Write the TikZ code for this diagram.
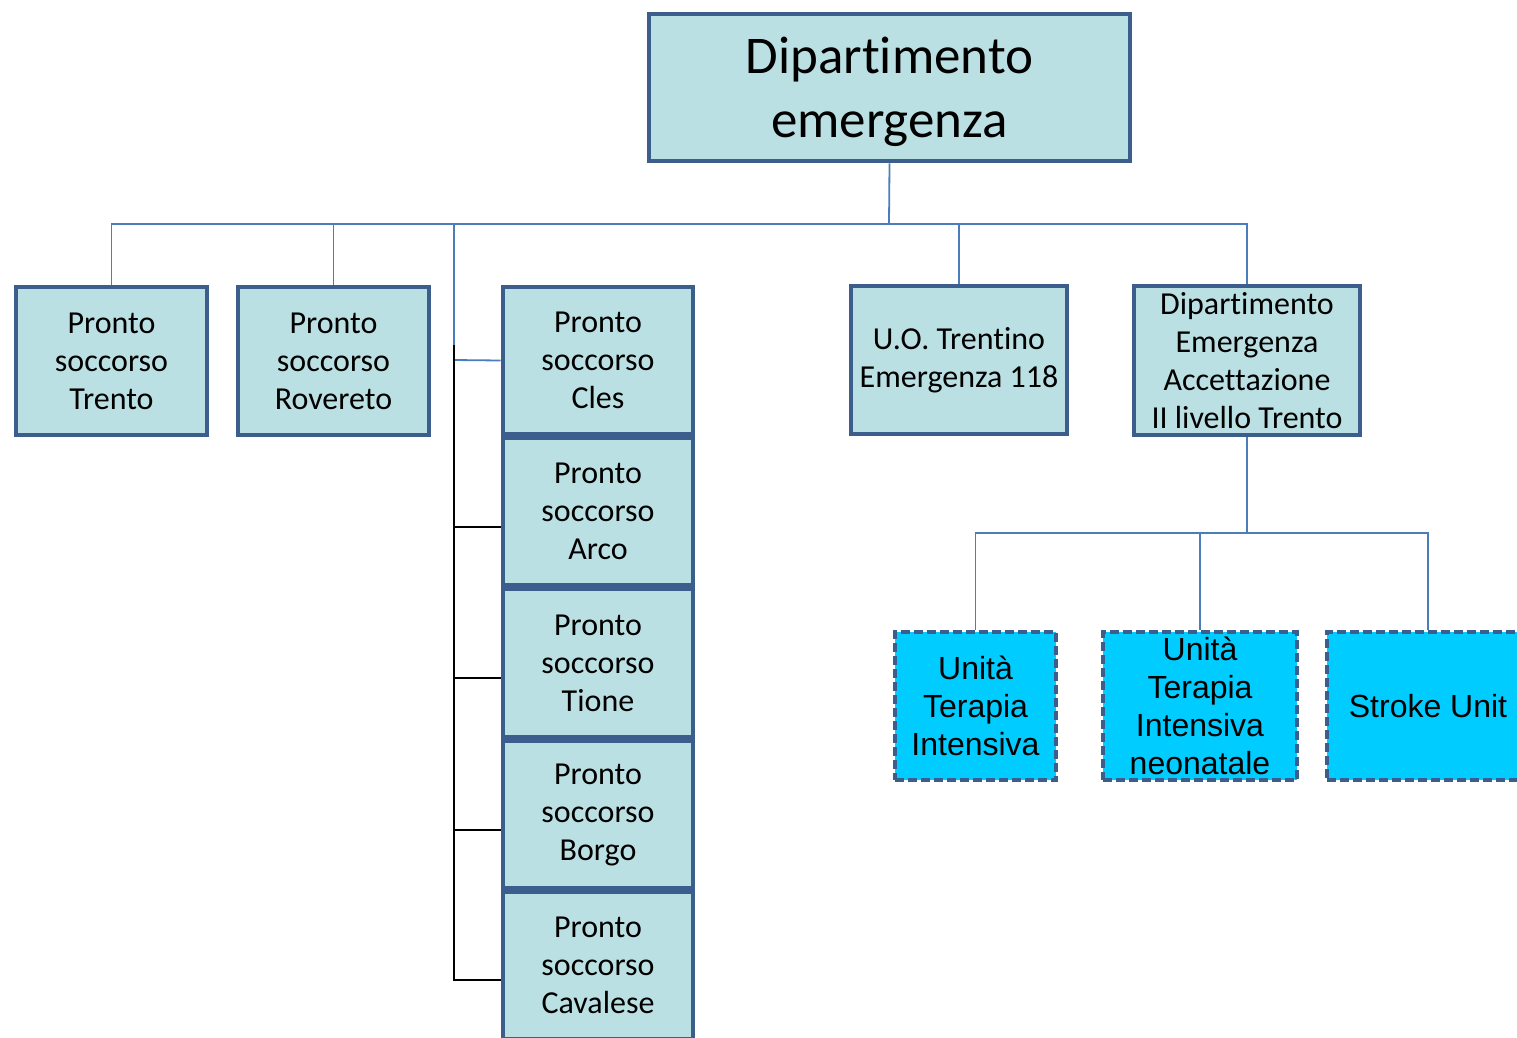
\documentclass[tikz,border=0pt]{standalone}
\usepackage{fontspec}
\setmainfont[RawFeature=-liga]{Carlito}
\newfontfamily\arialf{Liberation Sans}
\definecolor{bordc}{RGB}{59,94,140}
\definecolor{fillc}{RGB}{187,224,227}
\definecolor{cyanc}{RGB}{0,204,255}
\definecolor{connc}{RGB}{74,126,187}
\begin{document}
\begin{tikzpicture}[x=1pt,y=-1pt,
  box/.style={draw=bordc, line width=4.8pt, fill=fillc, inner sep=0pt, align=center,
    font=\fontsize{32}{38}\selectfont},
  dbox/.style={draw=bordc, line width=4.8pt, fill=cyanc, inner sep=0pt, align=center,
    dash pattern=on 9pt off 4pt, font=\arialf\fontsize{32}{38}\selectfont},
  conn/.style={draw=connc, line width=1.8pt},
  blk/.style={draw=black, line width=1.8pt}]
\useasboundingbox (0,0) rectangle (1517,1037);

\node[box, minimum width=481, minimum height=147] (title) at (889.5,87.5) {};
\node[inner sep=0pt, align=center, font=\fontsize{53}{64}\selectfont] (titletext) at (889.5,92) {Dipartimento\\emergenza};

\node[box, minimum width=191, minimum height=148] (trento) at (111.5,361) {Pronto\\soccorso\\Trento};
\node[box, minimum width=191, minimum height=148] (rovereto) at (333.5,361) {Pronto\\soccorso\\Rovereto};

\node[box, minimum width=190, minimum height=147] (cles) at (598,360.5) {Pronto\\soccorso\\Cles};
\node[box, minimum width=190, minimum height=147] (arco) at (598,511.5) {Pronto\\soccorso\\Arco};
\node[box, minimum width=190, minimum height=148] (tione) at (598,663) {Pronto\\soccorso\\Tione};
\node[box, minimum width=190, minimum height=147] (borgo) at (598,814.5) {Pronto\\soccorso\\Borgo};
\node[box, minimum width=190, minimum height=147] (cavalese) at (598,965.5) {Pronto\\soccorso\\Cavalese};

\node[box, minimum width=216, minimum height=148] (uo) at (959,360) {U.O. Trentino\\Emergenza 118};
\node[box, minimum width=226, minimum height=149] (dip) at (1247,360.5) {Dipartimento\\Emergenza\\Accettazione\\II livello Trento};

\node[dbox, minimum width=161, minimum height=148] (uti) at (975.5,706) {Unità\\Terapia\\Intensiva};
\node[dbox, minimum width=194, minimum height=148] (utin) at (1200,706) {Unità\\Terapia\\Intensiva\\neonatale};
\node[dbox, minimum width=202, minimum height=148] (stroke) at (1428,706) {Stroke Unit};

% upper connectors
\coordinate (bus) at (889,224);
\coordinate (clesk) at (454,360);
\draw[conn] (title.south) -- (bus);
\draw[conn] (bus) -| (trento.north);
\draw[conn] (bus) -| (rovereto.north);
\draw[conn] (bus) -| (clesk) -- (cles.west);
\draw[conn] (bus) -| (uo.north);
\draw[conn] (bus) -| (dip.north);

% black ladder
\coordinate (btop) at (454,345);
\coordinate (s1) at (454,527);
\coordinate (s2) at (454,678);
\coordinate (s3) at (454,830);
\coordinate (s4) at (454,980);
\draw[blk] (btop) -- (s4) -- ([yshift=-14.5pt]cavalese.west);
\draw[blk] (s1) -- ([yshift=-15.5pt]arco.west);
\draw[blk] (s2) -- ([yshift=-15pt]tione.west);
\draw[blk] (s3) -- ([yshift=-15.5pt]borgo.west);

% lower connectors
\coordinate (bus2) at (1247,533);
\draw[conn] (dip.south) -- (bus2);
\draw[conn] (bus2) -| (uti.north);
\draw[conn] (bus2) -| (utin.north);
\draw[conn] (bus2) -| (stroke.north);
\end{tikzpicture}
\end{document}
